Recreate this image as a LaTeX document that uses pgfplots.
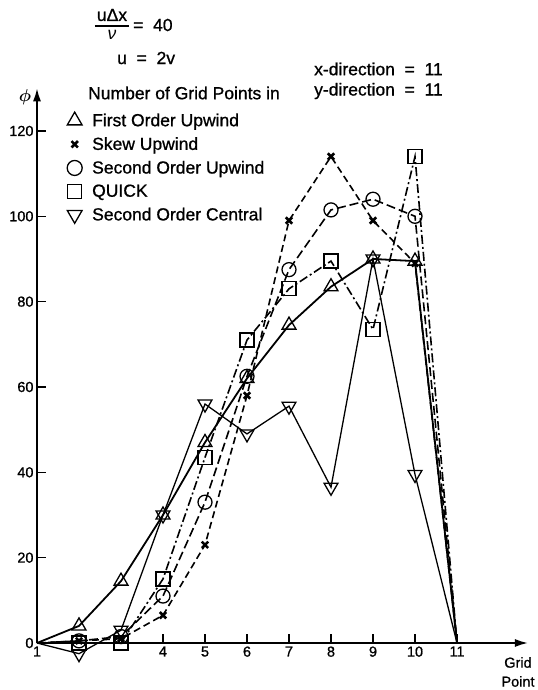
\documentclass[border=0pt]{standalone}
\usepackage{amsmath}
\usepackage{bm}
\usepackage{fontspec}
\setmainfont{Liberation Sans}[BoldFont=Liberation Sans, BoldFeatures={FakeBold=0.9}]
\usepackage{pgfplots}
\pgfplotsset{compat=1.18}
\usetikzlibrary{calc,arrows.meta}
\newcommand\bodyfont{\fontsize{17.5bp}{21bp}\selectfont\bfseries}
\begin{document}
\begin{tikzpicture}
\begin{axis}[
  name=ax,
  x=42bp, y=4.267bp,
  xmin=1, xmax=12.69, ymin=0, ymax=130,
  axis lines=left,
  axis line style={line width=1.7bp, -{Latex[length=13bp,width=8bp]}},
  clip=false,
  tick align=inside,
  major tick length=9bp,
  tick style={line width=1.3bp, black},
  xtick={1,4,5,6,7,8,9,10,11},
  ytick={0,20,...,120},
  tick label style={font=\fontsize{14.5bp}{15bp}\selectfont\bfseries},
  /pgf/number format/assume math mode=true,
  legend style={draw=none, fill=none, at={(0.055,0.962)}, anchor=north west,
    font=\bodyfont, row sep=5.5bp,
    /tikz/every odd column/.append style={column sep=8bp}},
  legend cell align=left,
  legend image code/.code={\draw[#1] plot coordinates {(0.3cm,0cm)};},
]
% legend images (marks only)
\addlegendimage{only marks, mark=triangle, mark size=8.5bp, mark options={line width=1.3bp}}
\addlegendentry{First Order Upwind}
\addlegendimage{only marks, mark=x, mark size=4.5bp, mark options={line width=2.6bp}}
\addlegendentry{Skew Upwind}
\addlegendimage{only marks, mark=o, mark size=7.5bp, mark options={line width=1.3bp}}
\addlegendentry{Second Order Upwind}
\addlegendimage{only marks, mark=square, mark size=7bp, mark options={line width=1.3bp}}
\addlegendentry{QUICK}
\addlegendimage{only marks, mark=triangle, mark size=8.5bp, mark options={line width=1.3bp, rotate=180}}
\addlegendentry{Second Order Central}

% First Order Upwind
\addplot[forget plot, black, line width=1.8bp, mark=triangle, mark size=8bp, mark indices={2,...,10},
  mark options={solid, line width=1.3bp, fill=white}] coordinates {
 (1,0) (2,4) (3,14.5) (4,30) (5,47) (6,62) (7,74.5) (8,83.5) (9,90) (10,89.5) (11,0)};
% Skew Upwind
\addplot[forget plot, black, line width=1.6bp, dash pattern=on 7bp off 4bp, mark=x, mark size=4.5bp, mark indices={2,...,10},
  mark options={solid, line width=2.6bp}] coordinates {
 (1,0) (2,0.5) (3,1) (4,6.5) (5,23) (6,58) (7,99) (8,114) (9,99) (10,89) (11,0)};
% Second Order Upwind
\addplot[forget plot, black, line width=1.6bp, dash pattern=on 9bp off 4bp, mark=o, mark size=7bp, mark indices={2,...,10},
  mark options={solid, line width=1.3bp}] coordinates {
 (1,0) (2,0.5) (3,1.5) (4,11) (5,33) (6,62.5) (7,87.5) (8,101.5) (9,104) (10,100) (11,0)};
% QUICK
\addplot[forget plot, black, line width=1.6bp, dash pattern=on 9bp off 3bp on 2bp off 3bp, mark=square, mark size=7bp, mark indices={2,...,10},
  mark options={solid, line width=1.3bp}] coordinates {
 (1,0) (2,0) (3,0) (4,15) (5,43.5) (6,71) (7,83) (8,89.5) (9,73.5) (10,114) (11,0)};
% Second Order Central
\addplot[forget plot, black, line width=1.3bp, mark=triangle, mark size=8bp, mark indices={2,...,10},
  mark options={solid, line width=1.3bp, rotate=180}] coordinates {
 (1,0) (2,-2.5) (3,3) (4,30) (5,56) (6,49) (7,55.5) (8,36.5) (9,90) (10,39.5) (11,0)};
\end{axis}
\begin{scope}[shift={($(ax.south west)+(-37bp,643bp)$)}, x=1bp, y=-1bp, font=\bodyfont]
  \node[inner sep=0] at (112,15) {uΔx};
  \draw[line width=1.2bp] (95,26) -- (129,26);
  \node[inner sep=0] at (112,35) {\itshape ν};
  \node[anchor=west, inner sep=0] at (133,25) {=\ \ 40};
  \node[anchor=west, inner sep=0] at (117,58) {u\ \ =\ \ 2v};
  \node[anchor=west, inner sep=0] at (314,69) {x-direction\ \ =\ \ 11};
  \node[anchor=west, inner sep=0] at (314,91) {y-direction\ \ =\ \ 11};
  \node[anchor=west, inner sep=0] at (88,93) {Number of Grid Points in};
  \node[inner sep=0] at (25,97) {$\bm{\phi}$};
  \node[align=center, inner sep=0, font=\fontsize{14.5bp}{19bp}\selectfont\bfseries] at (518,672) {Grid\\Point};
\end{scope}
\pgfresetboundingbox
\path[use as bounding box] ($(ax.south west)+(-37bp,-47bp)$) rectangle ($(ax.south west)+(501bp,643bp)$);
\end{tikzpicture}
\end{document}
